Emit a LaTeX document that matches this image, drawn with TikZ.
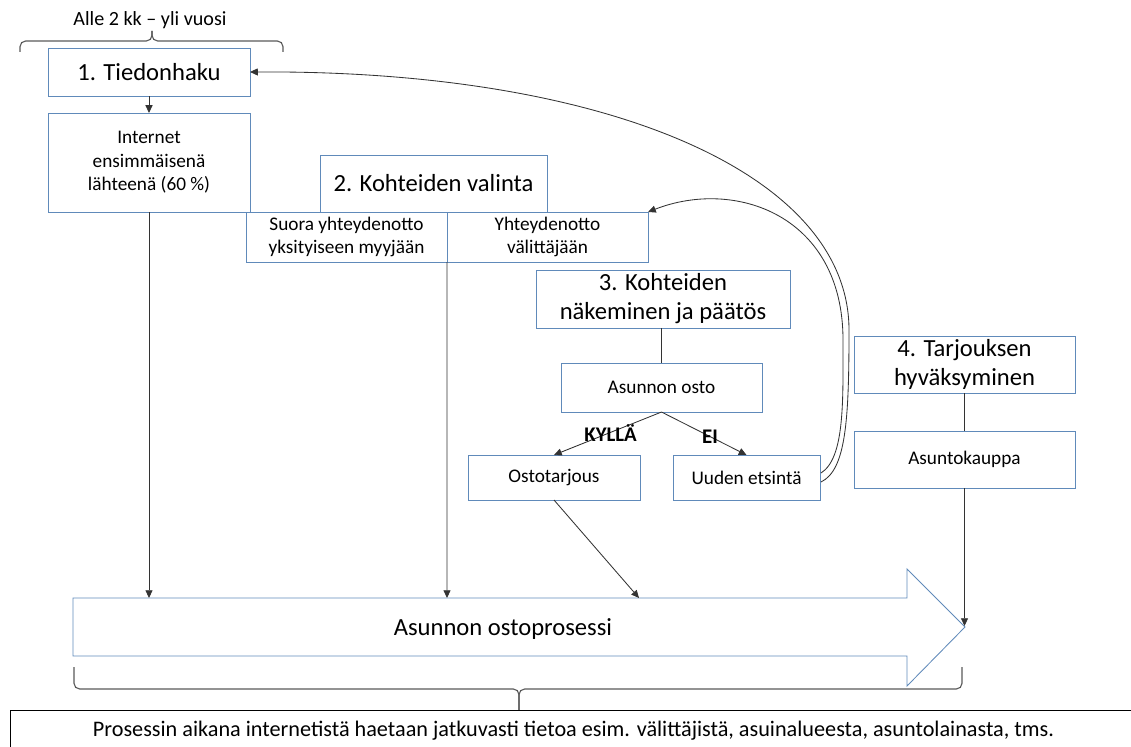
\documentclass[tikz,border=0pt]{standalone}
\usepackage{fontspec}
\setmainfont{Carlito}
\usetikzlibrary{arrows.meta}
\definecolor{laatikko}{RGB}{96,138,186}
\tikzset{
    box/.style={draw=laatikko,line width=0.6pt,inner sep=0pt,outer sep=0pt,align=center,
        font=\fontsize{13.7}{16.7}\selectfont},
    isobox/.style={box,font=\fontsize{17.5}{20.6}\selectfont},
    yhd/.style={draw=black!80,line width=0.6pt},
    nuoli/.style={yhd,-{Triangle[length=5.5pt,width=5pt]}},
    sulku/.style={draw=black!65,line width=0.8pt,rounded corners=4pt}
}
\begin{document}
\begin{tikzpicture}[x=0.025cm,y=-0.025cm]
    \clip (0,0) rectangle (1131,747);
    
    %Vaihe 1
    \node[isobox,minimum width=5.05cm,minimum height=1.2cm] (tied) at (149,72) {1. Tiedonhaku};
    \node[box,minimum width=5.05cm,minimum height=2.475cm] (inet) at (149,162.5) {Internet\\ensimmäisenä\\lähteenä (60 \%)};
    \draw[nuoli] (tied) -- (inet);
    \node[font=\fontsize{14.3}{16}\selectfont] (aika) at (150,20) {Alle 2 kk -- yli vuosi};
    \draw[sulku] (20,52) -- (20,41) -- (152,41) -- (152,31);
    \draw[sulku] (283,52) -- (283,41) -- (152,41) -- (152,31);
    
    %Vaihe 2
    \node[isobox,minimum width=5.675cm,minimum height=1.425cm] (valinta) at (433.5,183.5) {2. Kohteiden valinta};
    \node[box,minimum width=5.025cm,minimum height=1.25cm] (suora) at (346.5,237) {Suora yhteydenotto\\yksityiseen myyjään};
    \node[box,minimum width=5.025cm,minimum height=1.25cm] (valit) at (547.5,237) {Yhteydenotto\\välittäjään};
    
    %Vaihe 3
    \node[isobox,minimum width=6.35cm,minimum height=1.45cm] (nake) at (663,299) {3. Kohteiden\\näkeminen ja päätös};
    \node[box,minimum width=5.025cm,minimum height=1.225cm] (osto) at (661.5,387.5) {Asunnon osto};
    \node[box,minimum width=4.3cm,minimum height=1.125cm] (tarj) at (554,477.5) {Ostotarjous};
    \node[box,minimum width=3.675cm,minimum height=1.125cm] (uusi) at (746.5,477.5) {Uuden etsintä};
    \draw[yhd] (nake.south -| osto.north) -- (osto.north);
    \draw[nuoli] (osto.south) -- (tarj.north) node[midway,xshift=2pt,font=\fontsize{14.8}{16}\selectfont\bfseries] {KYLLÄ};
    \draw[nuoli] (osto.south) -- (uusi.north) node[pos=0.57,font=\fontsize{14.8}{16}\selectfont\bfseries] {EI};
    
    %Vaihe 4
    \node[isobox,minimum width=5.525cm,minimum height=1.425cm] (hyv) at (964.5,364.5) {4. Tarjouksen\\hyväksyminen};
    \node[box,minimum width=5.525cm,minimum height=1.425cm] (kauppa) at (964.5,459.5) {Asuntokauppa};
    \draw[yhd] (hyv) -- (kauppa);
    
    %Paluut
    \coordinate (u1) at (821,482);
    \coordinate (u2) at (821,473);
    \draw[nuoli] (u1) .. controls (846,470) and (849,420) .. (849,330)
        .. controls (849,175) and (610,70) .. (tied.east);
    \draw[nuoli] (u2) .. controls (845,458) and (843,400) .. (843,340)
        .. controls (843,215) and (735,178) .. (valit.north east);
    
    %Prosessinuoli
    \draw[draw=laatikko,line width=0.6pt] (73,598) -- (907,598) -- (907,569) -- (965,627)
        -- (907,686) -- (907,656) -- (73,656) -- cycle;
    \node[font=\fontsize{17.5}{20}\selectfont] (prosessi) at (503,629) {Asunnon ostoprosessi};
    \coordinate (k1) at (149,598);
    \coordinate (k2) at (447,598);
    \coordinate (k3) at (639,598);
    \coordinate (k4) at (964.5,626);
    \draw[nuoli] (inet.south) -- (k1);
    \draw[nuoli] (suora.south east) -- (k2);
    \draw[nuoli] (tarj.south) -- (k3);
    \draw[nuoli] (kauppa.south) -- (k4);
    
    %Alaosa
    \draw[sulku] (74,667) -- (74,689) -- (519,689) -- (519,710);
    \draw[sulku] (962,667) -- (962,689) -- (519,689) -- (519,710);
    \node[draw=black,line width=0.8pt,minimum width=28.25cm,minimum height=1.5cm,anchor=north west,
        inner sep=0pt] (ala) at (10,710) {};
    \node[font=\fontsize{15.8}{18}\selectfont] (teksti) at (573.5,731) {Prosessin aikana internetistä haetaan jatkuvasti tietoa esim. välittäjistä, asuinalueesta, asuntolainasta, tms.};
\end{tikzpicture}
\end{document}
